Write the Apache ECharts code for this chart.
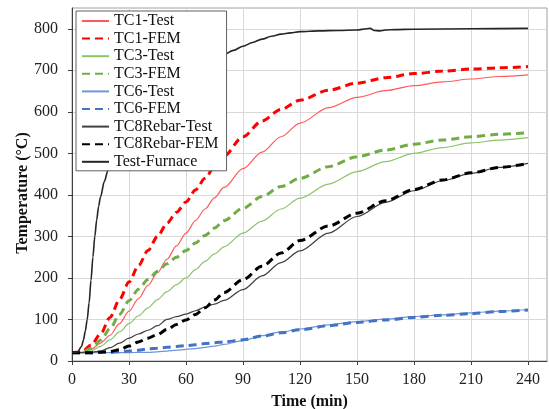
<!DOCTYPE html>
<html>
<head>
<meta charset="utf-8">
<script src="https://cdn.jsdelivr.net/npm/echarts@6/dist/echarts.min.js"></script>
<style>
  html, body { margin: 0; padding: 0; background: #fff; }
  #chart { width: 549px; height: 409px; }
</style>
</head>
<body>
<div id="chart"></div>
<script>
// 时间 (min)
var timeMin = [0, 5, 10, 15, 20, 25, 30, 35, 40, 45, 50, 55, 60, 65, 70, 75, 80, 90, 100, 110, 120, 135, 150, 165, 180, 195, 210, 225, 240];

// 各测点温度 (°C)
var tc1Test = [20, 21, 28, 43, 62, 90, 120, 150, 182, 213, 245, 277, 308, 338, 366, 393, 418, 463, 503, 540, 573, 610, 635, 651, 663, 672, 679, 685, 689];
var tc1Fem = [20, 22, 38, 65, 105, 148, 190, 230, 266, 300, 332, 358, 383, 412, 440, 468, 494, 540, 578, 606, 628, 652, 669, 682, 692, 698, 703, 706, 709];
var tc3Test = [20, 20, 24, 35, 51, 70, 90, 109, 128, 148, 167, 184, 200, 220, 240, 258, 275, 308, 337, 366, 392, 426, 456, 480, 500, 514, 525, 532, 538];
var tc3Fem = [20, 21, 30, 50, 78, 112, 145, 173, 196, 216, 234, 250, 266, 284, 302, 320, 338, 368, 396, 420, 440, 468, 492, 508, 522, 532, 540, 546, 550];
var tc6Test = [20, 20, 20, 20, 20, 20, 20, 21, 21, 22, 24, 26, 28, 30, 33, 36, 40, 49, 61, 70, 77, 87, 95, 101, 107, 111, 116, 120, 124];
var tc6Fem = [20, 20, 20, 21, 21, 22, 24, 26, 29, 31, 33, 35, 37, 39, 42, 44, 46, 51, 60, 68, 75, 85, 93, 99, 105, 110, 114, 119, 123];
var tc8Test = [20, 20, 21, 24, 32, 43, 55, 65, 74, 85, 100, 107, 113, 121, 130, 137, 146, 172, 205, 237, 265, 308, 348, 382, 410, 434, 452, 466, 476];
var tc8Fem = [20, 20, 20, 21, 23, 27, 36, 46, 55, 64, 76, 88, 99, 112, 128, 147, 165, 196, 228, 260, 290, 325, 356, 386, 413, 436, 453, 466, 476];

// 炉温
var furnaceTime = [0, 3, 5, 6, 7, 8, 9, 10, 11, 12, 13, 14, 15, 17, 19, 22, 25, 30, 40, 50, 60, 70, 80, 85, 90, 95, 100, 105, 110, 115, 120, 130, 140, 150, 155, 157, 159, 162, 165, 170, 180, 210, 240];
var furnaceTemp = [20, 22, 35, 50, 72, 100, 140, 195, 250, 300, 340, 372, 395, 432, 460, 500, 535, 585, 650, 690, 712, 728, 738, 748, 758, 767, 775, 782, 787, 790, 793, 795, 796, 797, 800, 801, 796, 795, 797, 798, 799, 800, 801];

// 刻度
var xTicks = [0, 30, 60, 90, 120, 150, 180, 210, 240];
var yTicks = [0, 100, 200, 300, 400, 500, 600, 700, 800];

var serif = 'Liberation Serif';

function pairs(xs, ys) {
  return xs.map(function (x, i) { return [x, ys[i]]; });
}

function lineSeries(name, xs, ys, color, width, dashed) {
  return {
    name: name,
    type: 'line',
    data: pairs(xs, ys),
    showSymbol: false,
    symbol: 'none',
    smooth: 0.3,
    smoothMonotone: 'x',
    lineStyle: {
      color: color,
      width: width,
      type: dashed ? [8, 5] : 'solid'
    },
    itemStyle: { color: color }
  };
}

var chart = echarts.init(document.getElementById('chart'));
var option = {
  animation: false,
  grid: {
    left: 72, top: 8, right: 2, bottom: 48,
    containLabel: false,
    outerBoundsMode: 'none',
    show: true,
    borderColor: '#a0a0a0',
    borderWidth: 1
  },
  legend: {
    orient: 'vertical',
    left: 76,
    top: 11,
    itemWidth: 27,
    itemHeight: 14,
    itemGap: 1.6,
    padding: [2, 8, 1, 5],
    backgroundColor: '#fff',
    borderColor: '#606060',
    borderWidth: 1,
    itemStyle: { opacity: 0 },
    textStyle: { fontFamily: serif, fontSize: 16, color: '#111', lineHeight: 16 },
    data: ['TC1-Test', 'TC1-FEM', 'TC3-Test', 'TC3-FEM', 'TC6-Test', 'TC6-FEM', 'TC8Rebar-Test', 'TC8Rebar-FEM', 'Test-Furnace']
  },
  xAxis: {
    type: 'value',
    min: 0,
    max: 250,
    interval: 30,
    name: 'Time (min)',
    nameLocation: 'middle',
    nameGap: 33,
    nameMoveOverlap: false,
    nameTextStyle: { fontFamily: serif, fontSize: 16, fontWeight: 'bold', color: '#111' },
    axisLine: { show: true, lineStyle: { color: '#404040', width: 1 } },
    axisTick: { show: true, length: 4, customValues: xTicks, lineStyle: { color: '#404040' } },
    axisLabel: { customValues: xTicks, margin: 11, fontFamily: serif, fontSize: 16, color: '#222' },
    splitLine: { show: true, lineStyle: { color: '#d9d9d9', width: 1 } }
  },
  yAxis: {
    type: 'value',
    min: 0,
    max: 850,
    interval: 100,
    name: 'Temperature (°C)',
    nameLocation: 'middle',
    nameRotate: 90,
    nameGap: 41,
    nameMoveOverlap: false,
    nameTextStyle: { fontFamily: serif, fontSize: 16, fontWeight: 'bold', color: '#111', padding: [0, 17, 0, 0] },
    axisLine: { show: true, lineStyle: { color: '#404040', width: 1 } },
    axisTick: { show: true, length: 4, customValues: yTicks, lineStyle: { color: '#404040' } },
    axisLabel: { customValues: yTicks, margin: 14, fontFamily: serif, fontSize: 16, color: '#222' },
    splitLine: { show: true, lineStyle: { color: '#d9d9d9', width: 1 } }
  },
  series: [
    lineSeries('TC1-Test', timeMin, tc1Test, '#ff5a5a', 1.2, false),
    lineSeries('TC1-FEM', timeMin, tc1Fem, '#ff0000', 3, true),
    lineSeries('TC3-Test', timeMin, tc3Test, '#8cc46a', 1.2, false),
    lineSeries('TC3-FEM', timeMin, tc3Fem, '#70ad47', 3, true),
    lineSeries('TC6-Test', timeMin, tc6Test, '#6f95d8', 1.2, false),
    lineSeries('TC6-FEM', timeMin, tc6Fem, '#4472c4', 3, true),
    lineSeries('TC8Rebar-Test', timeMin, tc8Test, '#404040', 1.2, false),
    lineSeries('TC8Rebar-FEM', timeMin, tc8Fem, '#000000', 3, true),
    lineSeries('Test-Furnace', furnaceTime, furnaceTemp, '#262626', 1.6, false)
  ]
};
chart.setOption(option);
</script>
</body>
</html>
